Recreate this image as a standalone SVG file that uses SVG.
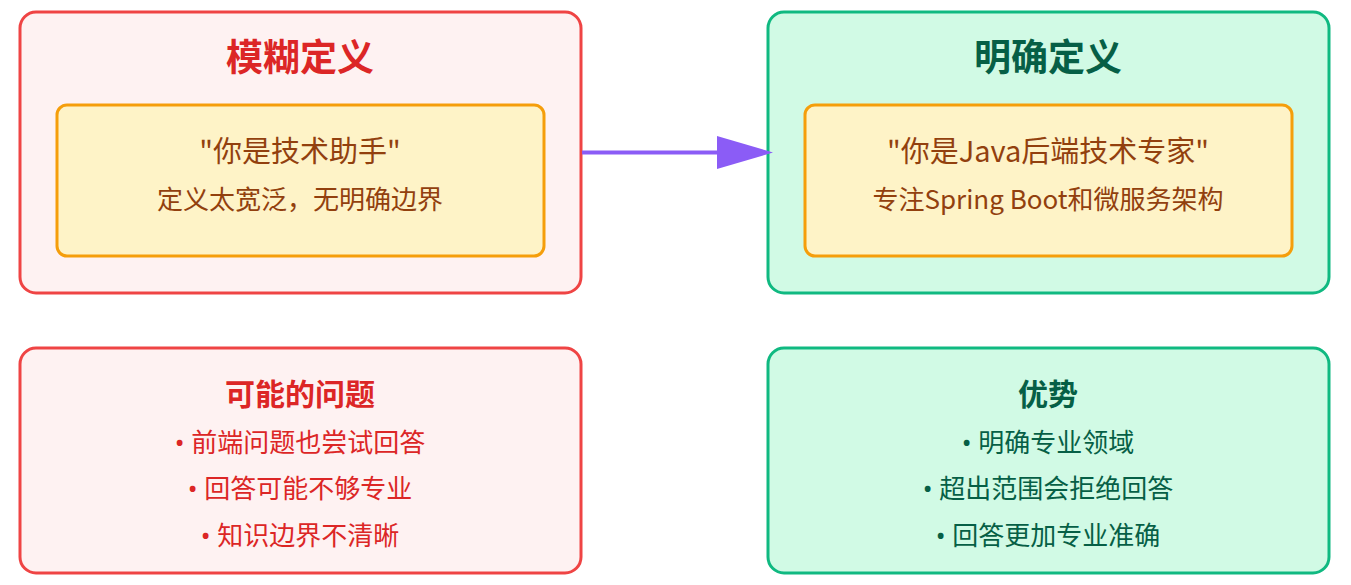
<svg xmlns="http://www.w3.org/2000/svg" width="1351" height="585" viewBox="0 0 1351 585">
<defs>
<style>
text{font-family:"Noto Sans CJK SC","Noto Sans",sans-serif;text-anchor:middle}
.red{fill:#FEF2F2;stroke:#EF4444;stroke-width:3}
.green{fill:#D1FAE5;stroke:#10B981;stroke-width:3}
.inner{fill:#FEF3C7;stroke:#F59E0B;stroke-width:3}
.title{font-size:37px;font-weight:700}
.sub{font-size:30px;font-weight:700}
.q{font-size:29px;fill:#92400E}
.d{font-size:26px;fill:#92400E}
.li{font-size:26px}
.b{font-family:"Noto Sans","Liberation Sans",sans-serif}
.rt{fill:#DC2626}
.gt{fill:#065F46}
</style>
<marker id="ah" markerWidth="14" markerHeight="8.25" refX="0" refY="4.125" orient="auto" markerUnits="strokeWidth">
<path d="M0,0 L14,4.125 L0,8.25 Z" fill="#8B5CF6"/>
</marker>
</defs>
<rect width="1351" height="585" fill="#FFFFFF"/>
<g id="vague">
<rect class="red" x="20" y="12" width="561" height="281" rx="16"/>
<text class="title rt" x="300" y="71">模糊定义</text>
<rect class="inner" x="57" y="105" width="487" height="151" rx="10"/>
<text class="q" x="300" y="162">"你是技术助手"</text>
<text class="d" x="300" y="209">定义太宽泛，无明确边界</text>
</g>
<g id="clear">
<rect class="green" x="768" y="12" width="561" height="281" rx="16"/>
<text class="title gt" x="1048" y="71">明确定义</text>
<rect class="inner" x="805" y="105" width="487" height="151" rx="10"/>
<text class="q" x="1048" y="162">"你是Java后端技术专家"</text>
<text class="d" x="1048" y="209">专注Spring Boot和微服务架构</text>
</g>
<g id="problems">
<rect class="red" x="20" y="348" width="561" height="225" rx="16"/>
<text class="sub rt" x="300" y="405">可能的问题</text>
<text class="li rt" x="300" y="452"><tspan class="b">• </tspan>前端问题也尝试回答</text>
<text class="li rt" x="300" y="498"><tspan class="b">• </tspan>回答可能不够专业</text>
<text class="li rt" x="300" y="545"><tspan class="b">• </tspan>知识边界不清晰</text>
</g>
<g id="advantages">
<rect class="green" x="768" y="348" width="561" height="225" rx="16"/>
<text class="sub gt" x="1048" y="405">优势</text>
<text class="li gt" x="1048" y="452"><tspan class="b">• </tspan>明确专业领域</text>
<text class="li gt" x="1048" y="498"><tspan class="b">• </tspan>超出范围会拒绝回答</text>
<text class="li gt" x="1048" y="545"><tspan class="b">• </tspan>回答更加专业准确</text>
</g>
<g id="connectors">
<line x1="582" y1="152.5" x2="717" y2="152.5" stroke="#8B5CF6" stroke-width="4" marker-end="url(#ah)"/>
</g>
</svg>
